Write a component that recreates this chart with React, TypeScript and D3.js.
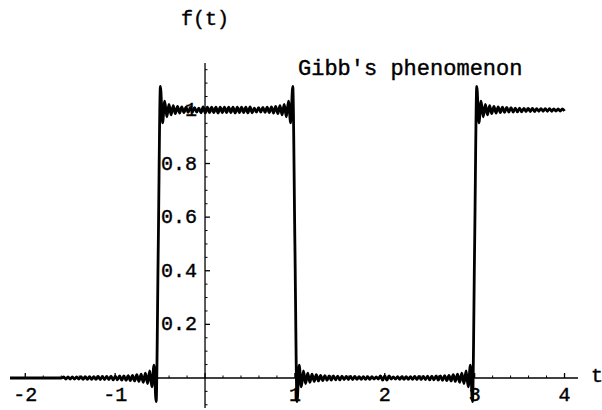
import { useEffect, useRef } from 'react';
import * as d3 from 'd3';

const width = 602,
    height = 410;

// square wave: jump positions, jump sign and the level between the jumps
const edgeTimes = [-0.52, 1, 3];
const edgeJumps = [1, -1, 1];
const plateauLevels = [0, 1, 0, 1];
const curveStart = -2.17,
    curveEnd = 4;

// spacing of the ripple extrema (in t) and their size next to a jump
const rippleStep = 0.02375;
const ringing = [
    0.088, -0.048, 0.033, -0.026, 0.021, -0.018, 0.016, -0.014, 0.013, -0.012,
    0.011, -0.01, 0.01, -0.009, 0.009, -0.008, 0.008, -0.008, 0.007, -0.007,
    0.007, -0.007, 0.006, -0.006, 0.006, -0.006, 0.006, -0.006, 0.005, -0.005,
    0.005, -0.005, 0.005, -0.005, 0.005, -0.005, 0.004, -0.004, 0.004, -0.004,
    0.004, -0.004, 0.004, -0.004,
];

const xTicks = [-2, -1, 0, 1, 2, 3, 4];
const xTickLabels = ['-2', '-1', '', '1', '2', '3', '4'];
const yTicks = [0.2, 0.4, 0.6, 0.8, 1];
const yTickLabels = ['0.2', '0.4', '0.6', '0.8', '1'];

const titleText = "Gibb's phenomenon";
const yAxisLabel = 'f(t)';
const xAxisLabel = 't';

const font = '"Liberation Mono", "Courier New", monospace';

// walk each plateau and put the ripple extrema of the jumps on both sides of it
const buildSamples = () => {
    const bounds = [curveStart, ...edgeTimes, curveEnd];
    const pts: [number, number][] = [];
    for (let i = 0; i < bounds.length - 1; i++) {
        const a = bounds[i],
            b = bounds[i + 1];
        const n = Math.max(1, Math.round((b - a) / rippleStep));
        const last = i === bounds.length - 2 ? n : n - 1;
        for (let j = 0; j <= last; j++) {
            const t = a + (j * (b - a)) / n;
            let v = plateauLevels[i];
            if (i > 0) {
                if (j === 0) v = (plateauLevels[i - 1] + plateauLevels[i]) / 2;
                else if (j - 1 < ringing.length) v += edgeJumps[i - 1] * ringing[j - 1];
            }
            if (i < edgeTimes.length) {
                const k = n - j;
                if (k > 0 && k - 1 < ringing.length) v -= edgeJumps[i] * ringing[k - 1];
            }
            pts.push([t, v]);
        }
    }
    return pts;
};

const GibbsChart = () => {
    const ref = useRef<SVGSVGElement>(null);

    useEffect(() => {
        const svg = d3.select(ref.current).attr('width', width).attr('height', height);
        svg.selectAll('*').remove();

        const x = d3.scaleLinear().domain([-2.17, 4.15]).range([10, 578]);
        const y = d3.scaleLinear().domain([-0.112, 1.175]).range([408, 63]);

        const axes = svg.append('g').attr('stroke', '#000').attr('stroke-width', 1.3);

        // x axis
        axes.append('line')
            .attr('x1', x(-2.17))
            .attr('x2', x(4.15))
            .attr('y1', y(0))
            .attr('y2', y(0));
        // y axis
        axes.append('line')
            .attr('x1', x(0))
            .attr('x2', x(0))
            .attr('y1', y(-0.112))
            .attr('y2', y(1.175));

        // minor ticks
        const xMinor = d3.range(-2, 4.01, 0.2).filter((v) => Math.abs(v - Math.round(v)) > 0.01 && v > -2.17);
        axes.selectAll('.xminor')
            .data(xMinor)
            .enter()
            .append('line')
            .attr('stroke-width', 1)
            .attr('x1', (d) => x(d))
            .attr('x2', (d) => x(d))
            .attr('y1', y(0))
            .attr('y2', y(0) - 2.5);
        const yMinor = d3.range(-0.1, 1.16, 0.05).filter((v) => Math.abs(v * 5 - Math.round(v * 5)) > 0.01);
        axes.selectAll('.yminor')
            .data(yMinor)
            .enter()
            .append('line')
            .attr('stroke-width', 1)
            .attr('x1', x(0))
            .attr('x2', x(0) + 2.5)
            .attr('y1', (d) => y(d))
            .attr('y2', (d) => y(d));

        // major ticks
        axes.selectAll('.xmajor')
            .data(xTicks)
            .enter()
            .append('line')
            .attr('x1', (d) => x(d))
            .attr('x2', (d) => x(d))
            .attr('y1', y(0))
            .attr('y2', y(0) - 5);
        axes.selectAll('.ymajor')
            .data(yTicks)
            .enter()
            .append('line')
            .attr('x1', x(0))
            .attr('x2', x(0) + 5)
            .attr('y1', (d) => y(d))
            .attr('y2', (d) => y(d));

        const labels = svg
            .append('g')
            .attr('font-family', font)
            .attr('font-size', 20)
            .attr('fill', '#000')
            .attr('stroke', '#000')
            .attr('stroke-width', 0.4);

        labels.selectAll('.xlab')
            .data(xTicks)
            .enter()
            .append('text')
            .attr('x', (d) => x(d))
            .attr('y', 401)
            .attr('text-anchor', 'middle')
            .text((d, i) => xTickLabels[i]);

        labels.selectAll('.ylab')
            .data(yTicks)
            .enter()
            .append('text')
            .attr('x', x(0) - 8)
            .attr('y', (d) => y(d) + 6)
            .attr('text-anchor', 'end')
            .text((d, i) => yTickLabels[i]);

        labels.append('text')
            .attr('x', x(0))
            .attr('y', 25)
            .attr('text-anchor', 'middle')
            .text(yAxisLabel);

        labels.append('text').attr('x', 591).attr('y', 382).text(xAxisLabel);

        labels.append('text')
            .attr('x', 298)
            .attr('y', 75)
            .attr('font-size', 22)
            .text(titleText);

        // the partial Fourier sum
        const line = d3
            .line<[number, number]>()
            .x((d) => x(d[0]))
            .y((d) => y(d[1]))
            .curve(d3.curveMonotoneX);

        svg.append('path')
            .datum(buildSamples())
            .attr('fill', 'none')
            .attr('stroke', '#000')
            .attr('stroke-width', 2.8)
            .attr('stroke-linejoin', 'round')
            .attr('d', line);
    }, []);

    return <svg ref={ref} style={{ position: 'absolute', left: 0, top: 0, background: '#fff' }}></svg>;
};

export default function App() {
    return <GibbsChart />;
}
